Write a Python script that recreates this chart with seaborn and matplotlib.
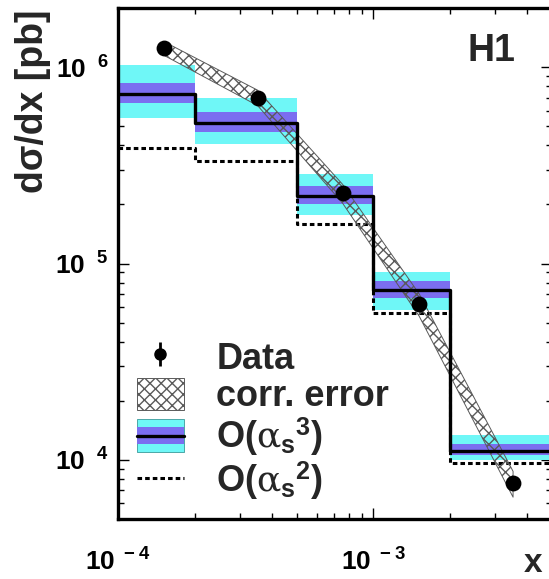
import numpy as np
import pandas as pd
import seaborn as sns
import matplotlib
matplotlib.use("Agg")
import matplotlib.pyplot as plt
from matplotlib.patches import Rectangle, Patch
from matplotlib.lines import Line2D
from matplotlib.legend_handler import HandlerBase

# ---------------- data ----------------
bin_edges = [1e-4, 2e-4, 5e-4, 1e-3, 2e-3, 5e-3]
nlo_central = [7.3e5, 5.2e5, 2.2e5, 7.3e4, 1.11e4]
nlo_inner_hi = [8.3e5, 5.9e5, 2.47e5, 8.1e4, 1.21e4]
nlo_inner_lo = [6.6e5, 4.66e5, 2.02e5, 6.7e4, 1.06e4]
nlo_outer_hi = [1.02e6, 6.95e5, 2.85e5, 9.1e4, 1.34e4]
nlo_outer_lo = [5.5e5, 4.05e5, 1.76e5, 5.82e4, 1.0e4]
lo_central = [3.87e5, 3.31e5, 1.58e5, 5.62e4, 9.66e3]

data_x = [1.51e-4, 3.52e-4, 7.57e-4, 1.51e-3, 3.52e-3]
data_y = [1.25e6, 7.0e5, 2.28e5, 6.2e4, 7.6e3]
corr_err = [0.08, 0.09, 0.11, 0.13, 0.15]

x_ticks = [1e-4, 1e-3]
x_ticklabels = [r"$10^{\ -4}$", r"$10^{\ -3}$"]
y_ticks = [1e4, 1e5, 1e6]
y_ticklabels = [r"$10^{\ \ 4}$", r"$10^{\ \ 5}$", r"$10^{\ \ 6}$"]

legend_labels = ["Data", "corr. error",
                 r"O($\mathit{\alpha}_{\mathrm{s}}{}^{3}$)",
                 r"O($\mathit{\alpha}_{\mathrm{s}}{}^{2}$)"]

CYAN = "#6ff7f7"
BLUE = "#7b6ef0"

# ---------------- style ----------------
sns.set_theme(style="ticks")
plt.rcParams["font.family"] = ["Liberation Sans", "DejaVu Sans"]
plt.rcParams["mathtext.fontset"] = "custom"
plt.rcParams["mathtext.rm"] = "Liberation Sans:bold"
plt.rcParams["mathtext.bf"] = "Liberation Sans:bold"
plt.rcParams["mathtext.it"] = "DejaVu Serif"
plt.rcParams["mathtext.sf"] = "Liberation Sans:bold"

fig = plt.figure(figsize=(5.49, 5.79), dpi=100)
ax = fig.add_axes([118 / 549, 1 - 519 / 579, 434 / 549, 511 / 579])
ax.set_xscale("log")
ax.set_yscale("log")

edges = np.array(bin_edges)

# NLO uncertainty bands
ax.stairs(nlo_outer_hi, edges, baseline=nlo_outer_lo, fill=True, color=CYAN, lw=0, zorder=1)
ax.stairs(nlo_inner_hi, edges, baseline=nlo_inner_lo, fill=True, color=BLUE, lw=0, zorder=2)

# step lines via seaborn
step_df = pd.DataFrame({
    "x": bin_edges,
    "nlo": nlo_central + [nlo_central[-1]],
    "lo": lo_central + [lo_central[-1]],
})
sns.lineplot(data=step_df, x="x", y="lo", ax=ax, drawstyle="steps-post",
             color="black", lw=2.2, dashes=False, zorder=3)
ax.lines[-1].set_dashes((1.5, 1.0))
sns.lineplot(data=step_df, x="x", y="nlo", ax=ax, drawstyle="steps-post",
             color="black", lw=2.4, zorder=5)

# correlated error band
dx = np.array(data_x)
dy = np.array(data_y)
ce = np.array(corr_err)
ax.fill_between(dx, dy * (1 - ce), dy * (1 + ce), facecolor="none",
                edgecolor="#5a5a5a", hatch="xxx", lw=0.7, zorder=4)

# data points
pts = pd.DataFrame({"x": data_x, "y": data_y})
sns.scatterplot(data=pts, x="x", y="y", ax=ax, color="black", s=130,
                edgecolor="black", linewidth=0, zorder=6)

ax.set_xlim(bin_edges[0], bin_edges[-1])
ax.set_ylim(5e3, 2e6)

ax.set_xticks(x_ticks, x_ticklabels)
ax.set_yticks(y_ticks, y_ticklabels)
ax.tick_params(which="both", direction="in", top=True, right=True, width=1.0, colors="black")
ax.tick_params(which="major", length=8)
ax.tick_params(which="minor", length=4.5)
ax.tick_params(axis="y", which="major", labelsize=19, pad=7)
ax.tick_params(axis="x", which="major", labelsize=19, pad=21)
ax.xaxis.set_minor_formatter(plt.NullFormatter())
ax.yaxis.set_minor_formatter(plt.NullFormatter())
for sp in ax.spines.values():
    sp.set_linewidth(2.4)
    sp.set_color("black")

ax.set_ylabel("d\u03c3/dx [pb]", fontsize=27, fontweight="bold", loc="top")
ax.yaxis.set_label_coords(-0.155, 0.998)
ax.set_xlabel("x", fontsize=24, fontweight="bold", ha="left", va="top")
ax.xaxis.set_label_coords(0.935, -0.056)

ax.text(0.86, 0.915, "H1", transform=ax.transAxes, fontsize=27,
        fontweight="bold", ha="center", va="center")


# ---------------- legend ----------------
class BandHandler(HandlerBase):
    def create_artists(self, legend, orig_handle, xdescent, ydescent,
                       width, height, fontsize, trans):
        x0, y0 = -xdescent, -ydescent
        outer = Rectangle((x0, y0), width, height, facecolor=CYAN,
                          edgecolor="#3a9a9a", lw=0.6, transform=trans)
        inner = Rectangle((x0, y0 + 0.23 * height), width, 0.54 * height,
                          facecolor=BLUE, lw=0, transform=trans)
        line = Line2D([x0, x0 + width], [y0 + 0.5 * height] * 2,
                      color="black", lw=2.4, transform=trans)
        return [outer, inner, line]


class BandKey:
    pass


h_data = (Line2D([], [], ls="none", marker="o", ms=8, color="black"),
          Line2D([], [], ls="none", marker="|", ms=17, mew=2, color="black"))
h_corr = Patch(facecolor="white", edgecolor="#5a5a5a", hatch="xxx", lw=0.7)
h_nlo = BandKey()
h_lo = Line2D([], [], color="black", lw=2.2, dashes=(1.5, 1.0))

leg = ax.legend([h_data, h_corr, h_nlo, h_lo], legend_labels,
                handler_map={BandKey: BandHandler()},
                loc="upper left", bbox_to_anchor=(137 / 549, 1 - 340 / 579),
                bbox_transform=fig.transFigure, frameon=False,
                prop={"family": "Liberation Sans", "weight": "bold", "size": 26},
                handlelength=1.3, handleheight=1.0, handletextpad=0.9,
                labelspacing=0.03, borderpad=0, borderaxespad=0)

fig.savefig("out.png", dpi=100, facecolor="white")
